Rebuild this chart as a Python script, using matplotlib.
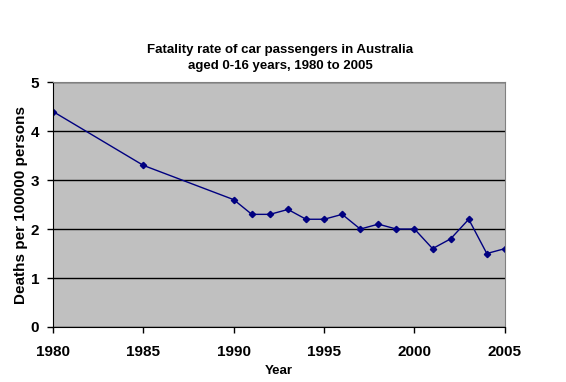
import matplotlib
matplotlib.use("Agg")
import matplotlib.pyplot as plt

years = [1980, 1985, 1990, 1991, 1992, 1993, 1994, 1995, 1996, 1997,
         1998, 1999, 2000, 2001, 2002, 2003, 2004, 2005]
rates = [4.4, 3.3, 2.6, 2.3, 2.3, 2.4, 2.2, 2.2, 2.3, 2.0,
         2.1, 2.0, 2.0, 1.6, 1.8, 2.2, 1.5, 1.6]
xticks = [1980, 1985, 1990, 1995, 2000, 2005]
yticks = [0, 1, 2, 3, 4, 5]

plt.rcParams['font.family'] = ['Liberation Sans', 'DejaVu Sans']
plt.rcParams['font.weight'] = 'bold'

fig = plt.figure(figsize=(5.66, 3.82), dpi=100)
ax = fig.add_axes([0.0936, 0.144, 0.7984, 0.641])
ax.set_facecolor('#c0c0c0')

ax.plot(years, rates, color='#000080', linewidth=1, marker='D', markersize=3.2)

ax.set_xlim(1980, 2005)
ax.set_ylim(0, 5)
ax.set_xticks(xticks)
ax.set_yticks(yticks)
ax.yaxis.grid(True, color='black', linewidth=1)
ax.set_axisbelow(True)
ax.tick_params(axis='both', labelsize=11, length=4, width=1, color='black')
ax.tick_params(axis='x', pad=9)
ax.tick_params(axis='y', pad=6)

for side in ['top', 'right']:
    ax.spines[side].set_color('#808080')
for side in ['left', 'bottom']:
    ax.spines[side].set_color('black')

ax.set_xlabel('Year', fontsize=9.5, fontweight='bold', labelpad=4)
ax.set_ylabel('Deaths per 100000 persons', fontsize=11, fontweight='bold', labelpad=2)
fig.text(0.495, 0.848,
         'Fatality rate of car passengers in Australia\naged 0-16 years, 1980 to 2005',
         ha='center', va='center', fontsize=9.5, fontweight='bold', linespacing=1.45)

fig.savefig('out.png', dpi=100)
